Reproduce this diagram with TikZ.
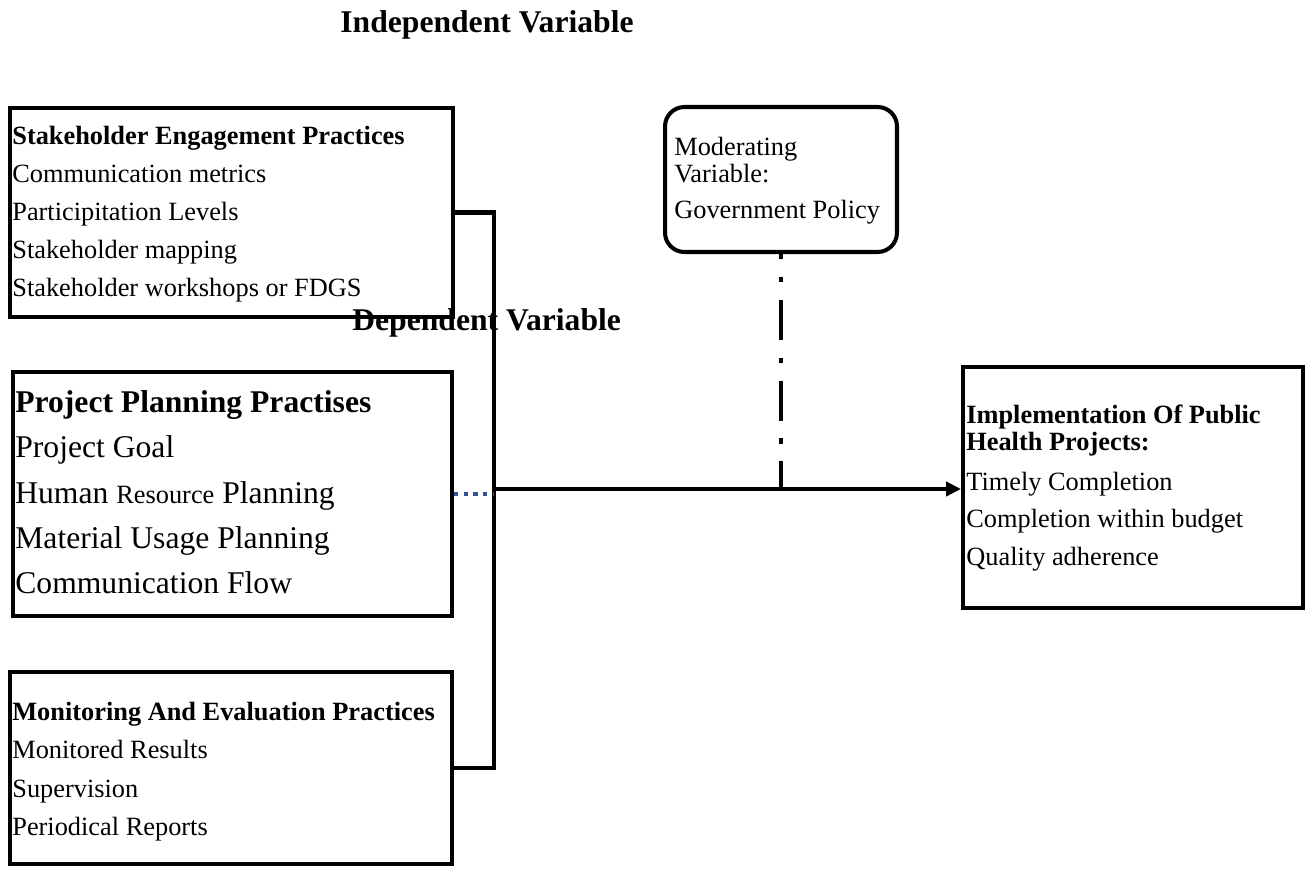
\documentclass[tikz,border=0pt]{standalone}
\usepackage{fontspec}
\setmainfont{Liberation Serif}
\usetikzlibrary{arrows.meta}

\definecolor{dotblue}{RGB}{47,85,151}

\tikzset{
  box/.style={draw, line width=2.3pt, inner sep=0pt},
  txt/.style={anchor=base west, inner sep=0pt, font=\fontsize{15}{18}\selectfont},
  head/.style={txt, font=\fontsize{15}{18}\selectfont\bfseries},
  bigtxt/.style={txt, font=\fontsize{18}{21}\selectfont},
  title/.style={inner sep=0pt, font=\fontsize{18}{21}\selectfont\bfseries},
  link/.style={line width=2.8pt},
}

\begin{document}
\begin{tikzpicture}[x=0.02cm, y=-0.02cm]
\useasboundingbox (0,0) rectangle (1311,869);

% headings
\node[title, anchor=base] (indep) at (487,32) {Independent Variable};
\node[title, anchor=base west] (dep) at (352,330) {Dependent Variable};

% frames
\node[box, minimum width=8.86cm, minimum height=4.18cm] (stake) at (231.5,212.5) {};
\node[box, minimum width=8.78cm, minimum height=4.88cm] (plan) at (232.5,494) {};
\node[box, minimum width=8.84cm, minimum height=3.84cm] (monit) at (231,768) {};
\node[box, rounded corners=11pt, minimum width=4.64cm, minimum height=2.9cm] (mod) at (781,179.5) {};
\node[box, minimum width=6.8cm, minimum height=4.82cm] (impl) at (1133,487.5) {};

% stakeholder engagement
\node[head] (seHead) at (12,144) {Stakeholder Engagement Practices};
\node[txt] (se1) at (12,182) {Communication metrics};
\node[txt] (se2) at (12,220) {Participitation Levels};
\node[txt] (se3) at (12,258) {Stakeholder mapping};
\node[txt] (se4) at (12,296) {Stakeholder workshops or FDGS};

% project planning
\node[bigtxt, font=\fontsize{18}{21}\selectfont\bfseries] (ppHead) at (15,412) {Project Planning Practises};
\node[bigtxt] (pp1) at (15,457) {Project Goal};
\node[bigtxt] (pp2) at (15,503) {Human {\fontsize{15}{18}\selectfont Resource} Planning};
\node[bigtxt] (pp3) at (15,548) {Material Usage Planning};
\node[bigtxt] (pp4) at (15,593) {Communication Flow};

% monitoring and evaluation
\node[head] (meHead) at (12,720) {Monitoring And Evaluation Practices};
\node[txt] (me1) at (12,758) {Monitored Results};
\node[txt] (me2) at (12,797) {Supervision};
\node[txt] (me3) at (12,835) {Periodical Reports};

% moderating variable
\node[txt] (mod1) at (674,155) {Moderating};
\node[txt] (mod2) at (674,182) {Variable:};
\node[txt] (mod3) at (674,218) {Government Policy};

% implementation
\node[head] (imHead1) at (966,423) {Implementation Of Public};
\node[head] (imHead2) at (966,450) {Health Projects:};
\node[txt] (im1) at (966,490) {Timely Completion};
\node[txt] (im2) at (966,527) {Completion within budget};
\node[txt] (im3) at (966,565) {Quality adherence};

% connectors
\coordinate (hub) at (494,489);
\draw[link] (stake.east) -| (hub) |- (monit.east);
\draw[link, -{Triangle[length=8.5pt,width=8pt]}] (hub) -- (hub -| impl.west);
\draw[dotblue, line width=2.5pt, dash pattern=on 2.5pt off 3pt] (plan.east) -- (plan.east -| hub);
\draw[link, dash pattern=on 23pt off 10pt on 3pt off 10pt, dash phase=20pt] (mod.south) -- (mod.south |- hub);
\end{tikzpicture}
\end{document}
